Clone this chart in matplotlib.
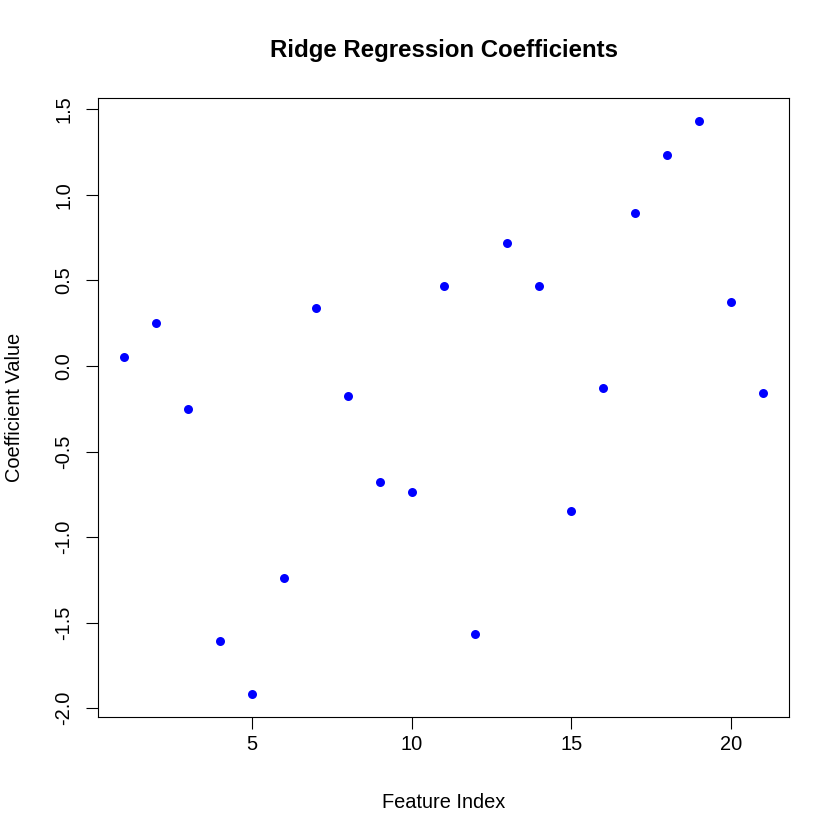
import matplotlib
matplotlib.use("Agg")
import matplotlib.pyplot as plt
import numpy as np

plt.rcParams['font.family'] = ['Liberation Sans', 'DejaVu Sans']

feature_index = np.arange(1, 22)
coefficients = [0.053, 0.251, -0.251, -1.607, -1.917, -1.239, 0.339, -0.175,
                -0.678, -0.736, 0.468, -1.566, 0.719, 0.468, -0.847, -0.129,
                0.894, 1.233, 1.432, 0.374, -0.158]
x_ticks = [5, 10, 15, 20]
y_ticks = [-2.0, -1.5, -1.0, -0.5, 0.0, 0.5, 1.0, 1.5]

W = 840
fig = plt.figure(figsize=(8.4, 8.4), dpi=100)
ax = fig.add_axes([98 / W, 123 / W, 691 / W, 619 / W])

ax.scatter(feature_index, coefficients, s=42, color='blue', marker='o', linewidths=0)

# R-style 4% padding around the data range
xmin, xmax = feature_index.min(), feature_index.max()
ymin, ymax = min(coefficients), max(coefficients)
xpad = 0.04 * (xmax - xmin)
ypad = 0.04 * (ymax - ymin)
ax.set_xlim(xmin - xpad, xmax + xpad)
ax.set_ylim(ymin - ypad, ymax + ypad)

ax.set_xticks(x_ticks)
ax.set_xticklabels([str(t) for t in x_ticks])
ax.set_yticks(y_ticks)
ax.set_yticklabels([f'{t:.1f}' for t in y_ticks], rotation=90, va='center')
ax.tick_params(axis='both', labelsize=14.4, length=8.6, width=0.8)
ax.tick_params(axis='x', pad=4)
ax.tick_params(axis='y', pad=9)

for spine in ax.spines.values():
    spine.set_linewidth(0.8)

ax.set_xlabel('Feature Index', fontsize=14.4, va='center')
ax.xaxis.set_label_coords(0.5, -(802 - 717) / 619)
ax.set_ylabel('Coefficient Value', fontsize=14.4, va='center')
ax.yaxis.set_label_coords(-(98 - 15) / 691, 0.5)

fig.text(443.5 / W, 1 - 50 / W, 'Ridge Regression Coefficients', fontsize=17.3,
         fontweight='bold', ha='center', va='center')

fig.savefig('out.png', dpi=100)
